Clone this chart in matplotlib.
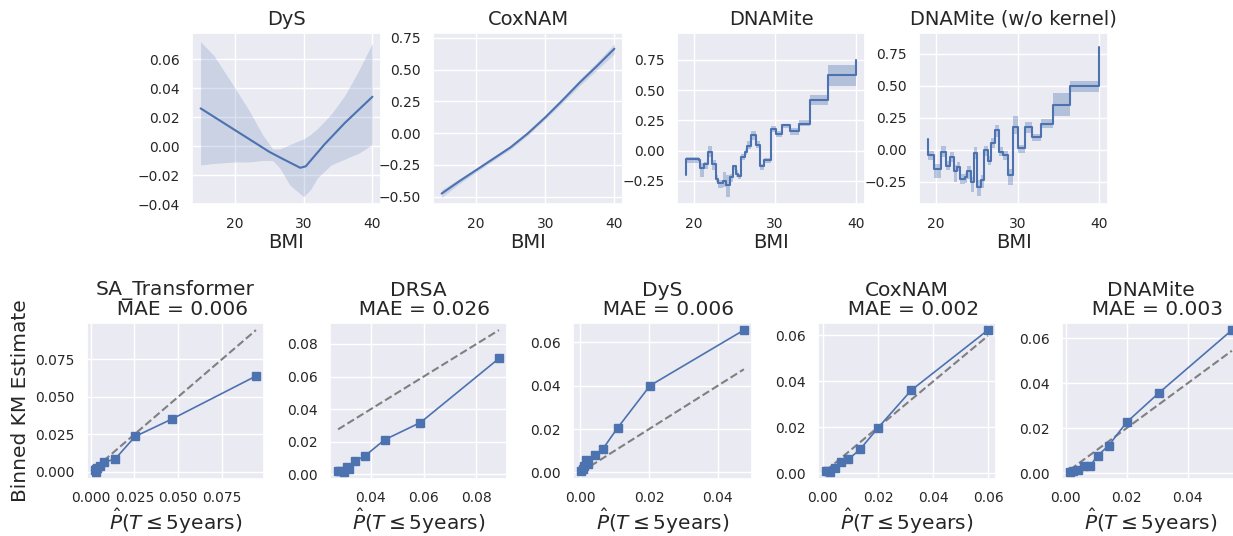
import matplotlib
matplotlib.use("Agg")
import matplotlib.pyplot as plt
import seaborn as sns
import numpy as np

sns.set_theme(style="darkgrid")
plt.rcParams["font.family"] = ["DejaVu Sans"]

BLUE = "#4c72b0"

# ---- top row: shape functions for BMI ----
dys_x = [15, 17, 20, 22.5, 25, 27, 29.5, 30.3, 33, 36, 40]
dys_y = [0.026, 0.020, 0.011, 0.0035, -0.004, -0.009, -0.015, -0.014, 0.001, 0.016, 0.034]
dys_band_x = [15, 17, 20, 22, 24, 25.5, 26.5, 28, 30, 31, 32, 34, 36, 38, 40]
dys_lo = [-0.013, -0.012, -0.011, -0.011, -0.010, -0.010, -0.015, -0.027, -0.035, -0.030, -0.022, -0.013, -0.009, -0.005, 0.001]
dys_hi = [0.072, 0.062, 0.040, 0.025, 0.008, -0.002, -0.002, 0.001, 0.005, 0.008, 0.012, 0.022, 0.035, 0.052, 0.071]

cox_x = [15, 17.5, 20, 22.5, 25, 27.5, 30, 32.5, 35, 37.5, 40]
cox_y = [-0.475, -0.38, -0.29, -0.20, -0.11, 0.0, 0.125, 0.26, 0.40, 0.53, 0.665]
cox_hw = [0.03, 0.02, 0.015, 0.015, 0.015, 0.015, 0.015, 0.02, 0.025, 0.03, 0.04]

dna_x = [19.0, 19.05, 20.6, 20.8, 21.3, 21.8, 22.3, 22.7, 23.0, 23.55, 23.96, 24.5, 24.8,
         25.2, 25.45, 25.85, 26.3, 26.6, 27.1, 27.6, 28.1, 28.6, 29.5, 30.1, 30.9, 31.8,
         32.9, 34.3, 36.5, 40.0]
dna_y = [-0.20, -0.07, -0.08, -0.14, -0.11, -0.015, -0.11, -0.23, -0.27, -0.25, -0.28, -0.22, -0.13,
         -0.19, -0.21, -0.05, -0.015, 0.04, 0.13, 0.05, -0.13, -0.08, 0.18, 0.14, 0.21, 0.165,
         0.22, 0.42, 0.62, 0.75]
dna_lo = [-0.36, -0.10, -0.10, -0.22, -0.15, -0.05, -0.16, -0.26, -0.31, -0.30, -0.38, -0.26, -0.16,
          -0.22, -0.23, -0.08, -0.04, 0.01, 0.09, 0.02, -0.16, -0.10, 0.15, 0.11, 0.19, 0.13,
          0.20, 0.38, 0.53, 0.53]
dna_hi = [-0.15, -0.05, -0.06, -0.10, -0.09, 0.04, -0.08, -0.20, -0.24, -0.18, -0.20, -0.19, -0.12,
          -0.16, -0.19, -0.03, 0.01, 0.08, 0.16, 0.08, -0.11, -0.06, 0.20, 0.16, 0.22, 0.19,
          0.25, 0.46, 0.71, 0.71]

nok_x = [19.0, 19.03, 19.8, 20.6, 21.26, 21.7, 22.2, 22.6, 22.96, 23.57, 23.85, 24.3, 24.7,
         25.0, 25.5, 25.9, 26.4, 26.8, 27.2, 27.7, 28.2, 28.8, 29.45, 30.06, 30.87, 31.76,
         32.9, 34.3, 36.35, 40.0]
nok_y = [0.08, -0.045, -0.15, -0.02, -0.125, -0.06, -0.17, -0.135, -0.23, -0.215, -0.17, -0.255, -0.03,
         -0.29, -0.24, -0.005, -0.085, 0.05, 0.15, -0.02, -0.045, -0.20, 0.18, 0.01, 0.175, 0.095,
         0.20, 0.35, 0.495, 0.80]
nok_lo = [0.0, -0.08, -0.22, -0.06, -0.16, -0.10, -0.25, -0.17, -0.27, -0.26, -0.23, -0.33, -0.07,
          -0.36, -0.30, -0.05, -0.12, 0.01, 0.10, -0.05, -0.08, -0.28, 0.12, -0.03, 0.13, 0.07,
          0.17, 0.26, 0.45, 0.45]
nok_hi = [0.10, -0.01, -0.11, 0.03, -0.09, -0.02, -0.12, -0.10, -0.19, -0.18, -0.13, -0.21, 0.02,
          -0.24, -0.20, 0.03, -0.05, 0.09, 0.19, 0.02, -0.01, -0.15, 0.26, 0.04, 0.22, 0.12,
          0.24, 0.44, 0.54, 0.54]

# ---- bottom row: calibration ----
calib_names = ["SA_Transformer", "DRSA", "DyS", "CoxNAM", "DNAMite"]
calib_mae = [0.006, 0.026, 0.006, 0.002, 0.003]
calib_pred = [
    [0.0025, 0.0028, 0.0030, 0.0035, 0.0051, 0.0077, 0.0139, 0.0254, 0.0466, 0.0944],
    [0.0276, 0.0285, 0.0298, 0.0310, 0.0318, 0.0340, 0.0377, 0.0452, 0.0588, 0.0885],
    [0.0002, 0.0006, 0.0010, 0.0015, 0.0022, 0.0042, 0.0066, 0.0109, 0.0203, 0.0476],
    [0.0012, 0.0015, 0.0027, 0.0045, 0.0066, 0.0093, 0.0135, 0.0201, 0.0321, 0.0598],
    [0.0015, 0.0025, 0.0040, 0.0062, 0.0081, 0.0105, 0.0141, 0.0200, 0.0305, 0.0545],
]
calib_km = [
    [0.0010, 0.0017, 0.0000, 0.0025, 0.0042, 0.0065, 0.0085, 0.0236, 0.0353, 0.0638],
    [0.0018, 0.0020, 0.0015, 0.0044, 0.0030, 0.0080, 0.0112, 0.0212, 0.0318, 0.0711],
    [0.0006, 0.0015, 0.0030, 0.0055, 0.0038, 0.0078, 0.0110, 0.0207, 0.0401, 0.0657],
    [0.0008, 0.0012, 0.0006, 0.0025, 0.0050, 0.0061, 0.0104, 0.0199, 0.0362, 0.0623],
    [0.0005, 0.0008, 0.0013, 0.0030, 0.0033, 0.0077, 0.0122, 0.0226, 0.0356, 0.0637],
]
sa_xticks = [0.0, 0.025, 0.05, 0.075]

W, H = 1233, 536
fig = plt.figure(figsize=(W / 100, H / 100), dpi=100)


def box(l, t, r, b):
    return [l / W, 1 - b / H, (r - l) / W, (b - t) / H]


top_boxes = [(192, 33, 381, 204), (433, 33, 623, 204), (677, 33, 865, 204), (919, 33, 1108, 204)]
bot_boxes = [(87, 323, 264, 479), (330, 323, 507, 479), (573, 323, 752, 479),
             (818, 323, 996, 479), (1062, 323, 1240, 479)]

TICK = 10

# DyS
ax = fig.add_axes(box(*top_boxes[0]))
ax.fill_between(dys_band_x, dys_lo, dys_hi, color=BLUE, alpha=0.2, lw=0)
ax.plot(dys_x, dys_y, color=BLUE, lw=1.5)
ax.set_ylim(-0.040, 0.078)
ax.set_title("DyS", fontsize=14)

# CoxNAM
ax = fig.add_axes(box(*top_boxes[1]))
ax.fill_between(cox_x, np.array(cox_y) - cox_hw, np.array(cox_y) + cox_hw, color=BLUE, alpha=0.2, lw=0)
ax.plot(cox_x, cox_y, color=BLUE, lw=1.5)
ax.set_ylim(-0.557, 0.789)
ax.set_yticks([-0.5, -0.25, 0, 0.25, 0.5, 0.75])
ax.set_title("CoxNAM", fontsize=14)

# DNAMite
ax = fig.add_axes(box(*top_boxes[2]))
ax.fill_between(dna_x, dna_lo, dna_hi, step="post", color=BLUE, alpha=0.35, lw=0)
ax.step(dna_x, dna_y, where="post", color=BLUE, lw=1.5)
ax.set_ylim(-0.44, 0.97)
ax.set_yticks([-0.25, 0, 0.25, 0.5, 0.75])
ax.set_title("DNAMite", fontsize=14)

# DNAMite w/o kernel
ax = fig.add_axes(box(*top_boxes[3]))
ax.fill_between(nok_x, nok_lo, nok_hi, step="post", color=BLUE, alpha=0.35, lw=0)
ax.step(nok_x, nok_y, where="post", color=BLUE, lw=1.5)
ax.set_ylim(-0.425, 0.912)
ax.set_yticks([-0.25, 0, 0.25, 0.5, 0.75])
ax.set_title("DNAMite (w/o kernel)", fontsize=14)

for a in fig.axes:
    a.set_xticks([20, 30, 40])
    a.set_xlabel("BMI", fontsize=14, labelpad=2)
    a.tick_params(labelsize=TICK, pad=3)

# calibration plots
for i, name in enumerate(calib_names):
    ax = fig.add_axes(box(*bot_boxes[i]))
    p = calib_pred[i]
    ax.plot([min(p), max(p)], [min(p), max(p)], ls="--", color="grey", lw=1.5)
    ax.plot(p, calib_km[i], marker="s", markersize=6, color=BLUE, lw=1.2)
    ax.set_title(f"{name}\n  MAE = {calib_mae[i]:.3f}", fontsize=14.5, linespacing=1.0)
    ax.set_xlabel(r"$\hat{P}(T \leq 5\mathrm{years})$", fontsize=14.5, labelpad=1)
    ax.tick_params(labelsize=TICK, pad=3)
    if i == 0:
        ax.set_xticks(sa_xticks)
        ax.set_xticklabels([f"{t:.3f}" for t in sa_xticks])
        ax.set_ylabel("Binned KM Estimate", fontsize=14.5)

fig.savefig("out.png", dpi=100)
